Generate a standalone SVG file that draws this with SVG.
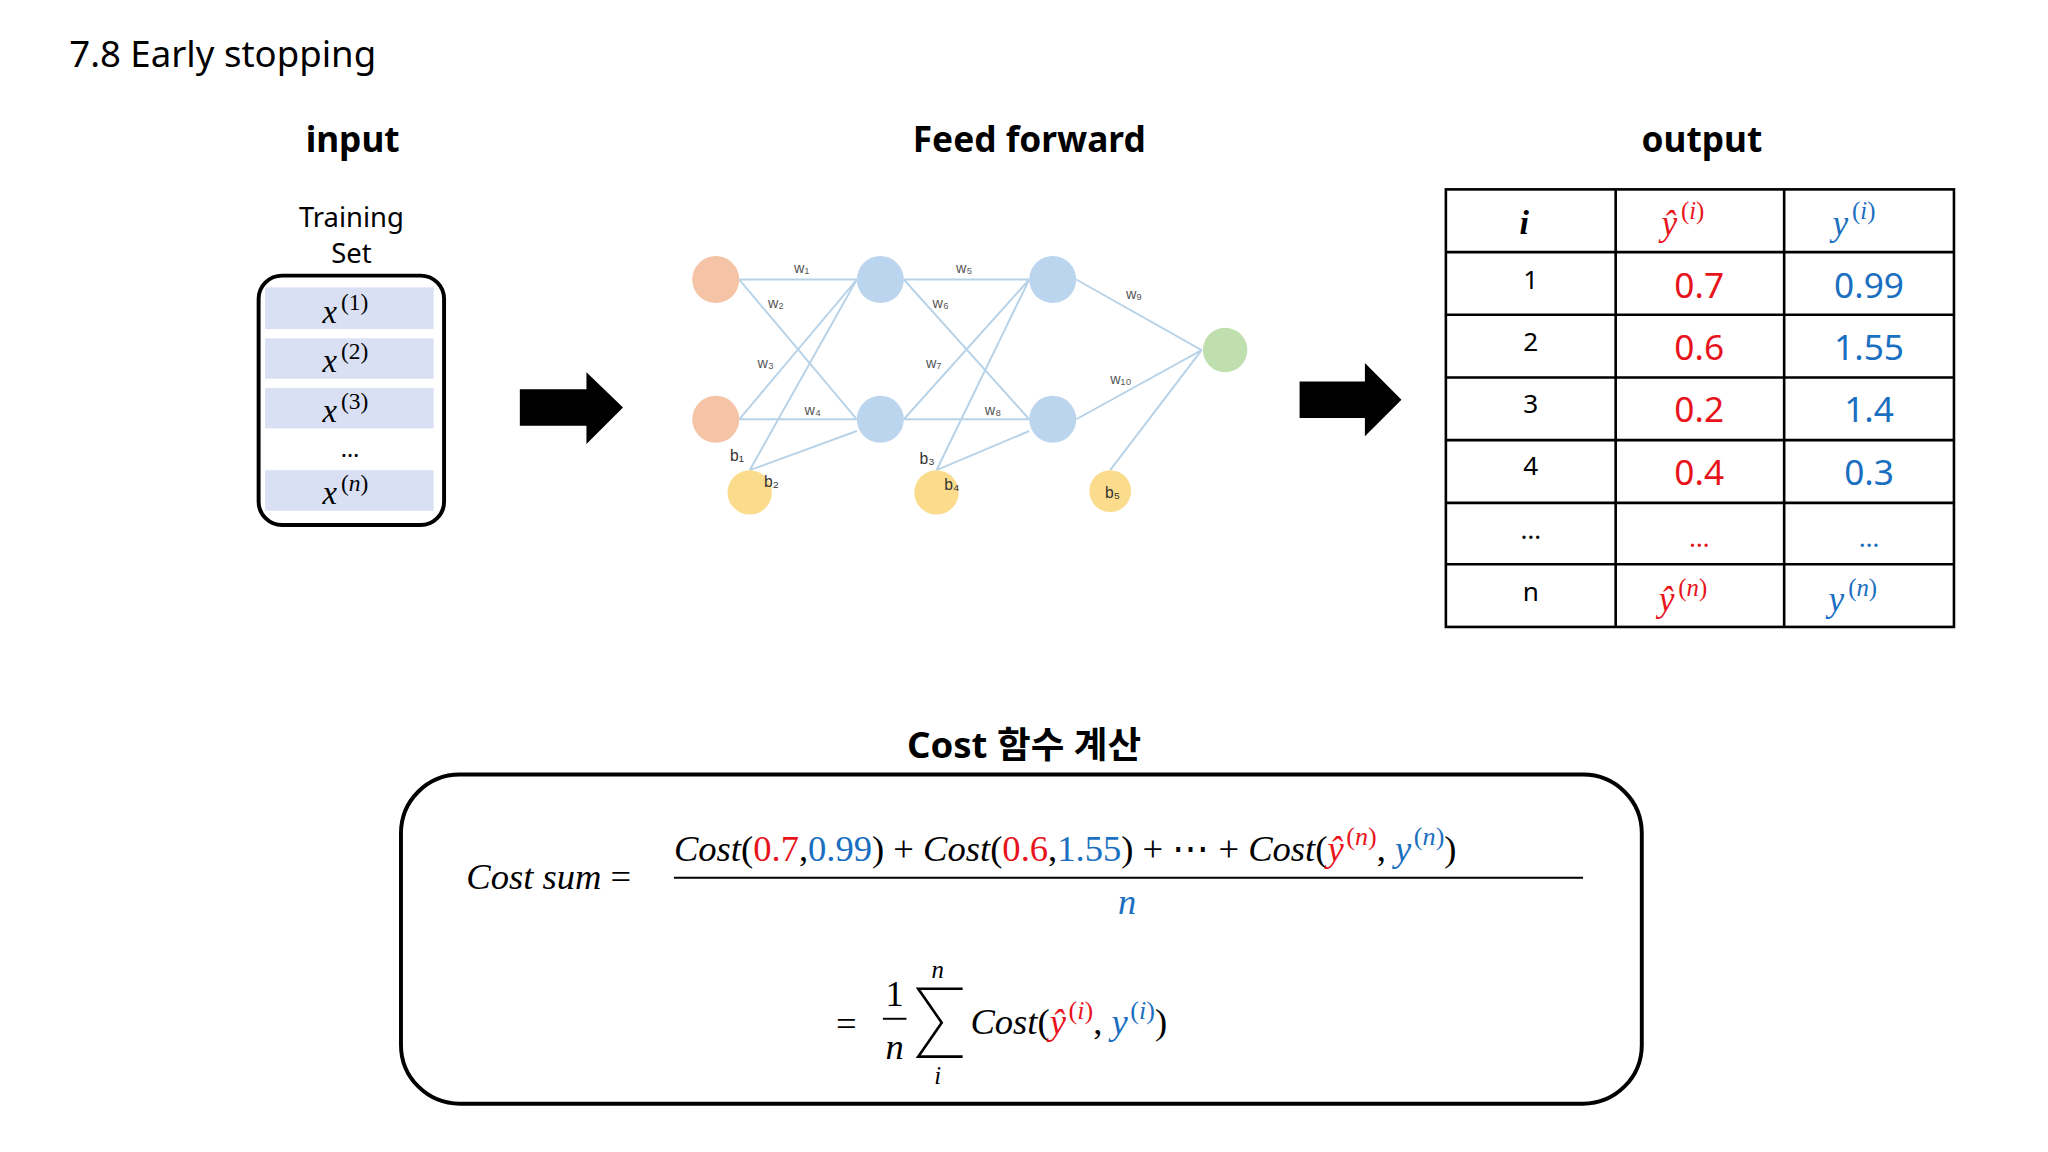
<svg xmlns="http://www.w3.org/2000/svg" width="2048" height="1152" viewBox="0 0 2048 1152">
<style>
.s{font-family:"Noto Sans","Liberation Sans",sans-serif}
.m{font-family:"Liberation Serif",serif;font-style:italic}
.r{fill:#e8141c}.b{fill:#1a6fc0}
.e{stroke:#b8d3e8;stroke-width:1.5;fill:none}
.w{font-family:"Liberation Sans",sans-serif;font-size:11px;fill:#555}
.t{fill:none;stroke:#000;stroke-width:2}
</style>
<rect width="2048" height="1152" fill="#fff"/>
<g transform="scale(1.30612)">
<text class="s" x="53" y="51" font-size="28">7.8 Early stopping</text>
<g id="input">
<text class="s" x="270" y="116" font-size="27" font-weight="bold" text-anchor="middle">input</text>
<text class="s" x="269" y="174" font-size="21" text-anchor="middle">Training</text>
<text class="s" x="269" y="201" font-size="21" text-anchor="middle">Set</text>
<rect x="198" y="211" width="142" height="191" rx="18" fill="#fff" stroke="#000" stroke-width="3"/>
<g fill="#d9e0f3"><rect x="203" y="220" width="129" height="32"/><rect x="203" y="259" width="129" height="31"/><rect x="203" y="297" width="129" height="31"/><rect x="203" y="360" width="129" height="31"/></g>
<g class="m" font-size="25"><text x="247" y="247">x<tspan font-size="18" dx="3" dy="-10" font-style="normal">(1)</tspan></text><text x="247" y="285">x<tspan font-size="18" dx="3" dy="-10" font-style="normal">(2)</tspan></text><text x="247" y="323">x<tspan font-size="18" dx="3" dy="-10" font-style="normal">(3)</tspan></text><text x="247" y="386">x<tspan font-size="18" dx="3" dy="-10" font-style="normal">(<tspan font-style="italic">n</tspan>)</tspan></text></g>
<text class="s" x="268" y="350" font-size="18" text-anchor="middle">…</text>
</g>
<g id="arrows">
<polygon points="398,298 449,298 449,285 477,312 449,340 449,326 398,326" fill="#000"/>
<polygon points="995,292 1045,292 1045,278 1073,306 1045,334 1045,320 995,320" fill="#000"/>
</g>
<g id="network">
<text class="s" x="788" y="116" font-size="27" font-weight="bold" text-anchor="middle">Feed forward</text>
<g class="e">
<path d="M566,214H656M566,214L656,321M566,321L656,214M566,321H656M574,360L656,214M574,360L656,330"/>
<path d="M692,214H788M692,214L788,321M692,321L788,214M692,321H788M717,360L788,214M717,360L788,330"/>
<path d="M824,214L920,268M824,321L920,268M850,360L920,268"/>
</g>
<g fill="#f5c3a6"><circle cx="548" cy="214" r="18"/><circle cx="548" cy="321" r="18"/></g>
<g fill="#bcd5ee"><circle cx="674" cy="214" r="18"/><circle cx="674" cy="321" r="18"/><circle cx="806" cy="214" r="18"/><circle cx="806" cy="321" r="18"/></g>
<circle cx="938" cy="268" r="17" fill="#bfe0ae"/>
<g fill="#fadc8c"><circle cx="574" cy="377" r="17"/><circle cx="717" cy="377" r="17"/><circle cx="850" cy="376" r="16"/></g>
<g class="w"><text x="608" y="209">w₁</text><text x="588" y="236">w₂</text><text x="580" y="282">w₃</text><text x="616" y="318">w₄</text><text x="732" y="209">w₅</text><text x="714" y="236">w₆</text><text x="709" y="282">w₇</text><text x="754" y="318">w₈</text><text x="862" y="229">w₉</text><text x="850" y="294">w₁₀</text>
<text x="559" y="353" fill="#333" font-size="12">b₁</text><text x="585" y="373" fill="#333" font-size="12">b₂</text><text x="704" y="355" fill="#333" font-size="12">b₃</text><text x="723" y="375" fill="#333" font-size="12">b₄</text><text x="846" y="381" fill="#333" font-size="12">b₅</text></g>
</g>
<g id="output">
<text class="s" x="1303" y="116" font-size="27" font-weight="bold" text-anchor="middle">output</text>
<rect class="t" x="1107" y="145" width="389" height="335"/>
<path class="t" d="M1237,145V480M1366,145V480M1107,193H1496M1107,241H1496M1107,289H1496M1107,337H1496M1107,385H1496M1107,432H1496"/>
<text class="m" x="1167" y="179" font-size="26" font-weight="bold" text-anchor="middle">i</text>
<text class="m r" x="1272" y="180" font-size="27">ŷ<tspan font-size="19" dx="3" dy="-12" font-style="normal">(<tspan font-style="italic">i</tspan>)</tspan></text>
<text class="m b" x="1403" y="180" font-size="27">y<tspan font-size="19" dx="3" dy="-12" font-style="normal">(<tspan font-style="italic">i</tspan>)</tspan></text>
<g class="s" font-size="20" text-anchor="middle"><text x="1172" y="221">1</text><text x="1172" y="269">2</text><text x="1172" y="316">3</text><text x="1172" y="364">4</text><text x="1172" y="413">…</text><text x="1172" y="460">n</text></g>
<g class="s r" font-size="27" text-anchor="middle"><text x="1301" y="228">0.7</text><text x="1301" y="276">0.6</text><text x="1301" y="323">0.2</text><text x="1301" y="371">0.4</text><text x="1301" y="419" font-size="20">…</text></g>
<g class="s b" font-size="27" text-anchor="middle"><text x="1431" y="228">0.99</text><text x="1431" y="276">1.55</text><text x="1431" y="323">1.4</text><text x="1431" y="371">0.3</text><text x="1431" y="419" font-size="20">…</text></g>
<text class="m r" x="1270" y="468" font-size="27">ŷ<tspan font-size="19" dx="3" dy="-12" font-style="normal">(<tspan font-style="italic">n</tspan>)</tspan></text>
<text class="m b" x="1400" y="468" font-size="27">y<tspan font-size="19" dx="3" dy="-12" font-style="normal">(<tspan font-style="italic">n</tspan>)</tspan></text>
</g>
<g id="cost">
<text x="784" y="580" font-size="28" font-weight="bold" text-anchor="middle" font-family="'Noto Sans','Noto Sans CJK KR',sans-serif">Cost 함수 계산</text>
<rect x="307" y="593" width="950" height="252" rx="45" fill="none" stroke="#000" stroke-width="3"/>
<g class="m" font-size="28">
<text x="357" y="681">Cost sum <tspan font-style="normal">=</tspan></text>
<text x="516" y="659">Cost<tspan font-style="normal">(</tspan><tspan class="r" font-style="normal">0.7</tspan><tspan font-style="normal">,</tspan><tspan class="b" font-style="normal">0.99</tspan><tspan font-style="normal">) + </tspan>Cost<tspan font-style="normal">(</tspan><tspan class="r" font-style="normal">0.6</tspan><tspan font-style="normal">,</tspan><tspan class="b" font-style="normal">1.55</tspan><tspan font-style="normal">) + ⋯ + </tspan>Cost<tspan font-style="normal">(</tspan><tspan class="r">ŷ</tspan><tspan class="r" font-size="20" dx="2" dy="-12" font-style="normal">(<tspan font-style="italic">n</tspan>)</tspan><tspan dy="12" font-style="normal">, </tspan><tspan class="b">y</tspan><tspan class="b" font-size="20" dx="2" dy="-12" font-style="normal">(<tspan font-style="italic">n</tspan>)</tspan><tspan dy="12" font-style="normal">)</tspan></text>
<line x1="516" y1="672" x2="1212" y2="672" stroke="#000" stroke-width="1.5"/>
<text class="b" x="863" y="700" text-anchor="middle">n</text>
<text x="640" y="793" font-style="normal">=</text>
<text x="685" y="770" font-style="normal" text-anchor="middle">1</text>
<line x1="676" y1="780" x2="694" y2="780" stroke="#000" stroke-width="1.5"/>
<text x="685" y="811" text-anchor="middle">n</text>
<text x="718" y="749" font-size="19" text-anchor="middle">n</text>
<path d="M737,757H703L721,783L703,809H737" fill="none" stroke="#000" stroke-width="2"/>
<text x="718" y="830" font-size="19" text-anchor="middle">i</text>
<text x="743" y="792">Cost<tspan font-style="normal">(</tspan><tspan class="r">ŷ</tspan><tspan class="r" font-size="20" dx="2" dy="-12" font-style="normal">(<tspan font-style="italic">i</tspan>)</tspan><tspan dy="12" font-style="normal">, </tspan><tspan class="b">y</tspan><tspan class="b" font-size="20" dx="2" dy="-12" font-style="normal">(<tspan font-style="italic">i</tspan>)</tspan><tspan dy="12" font-style="normal">)</tspan></text>
</g>
</g>
</g>
</svg>
